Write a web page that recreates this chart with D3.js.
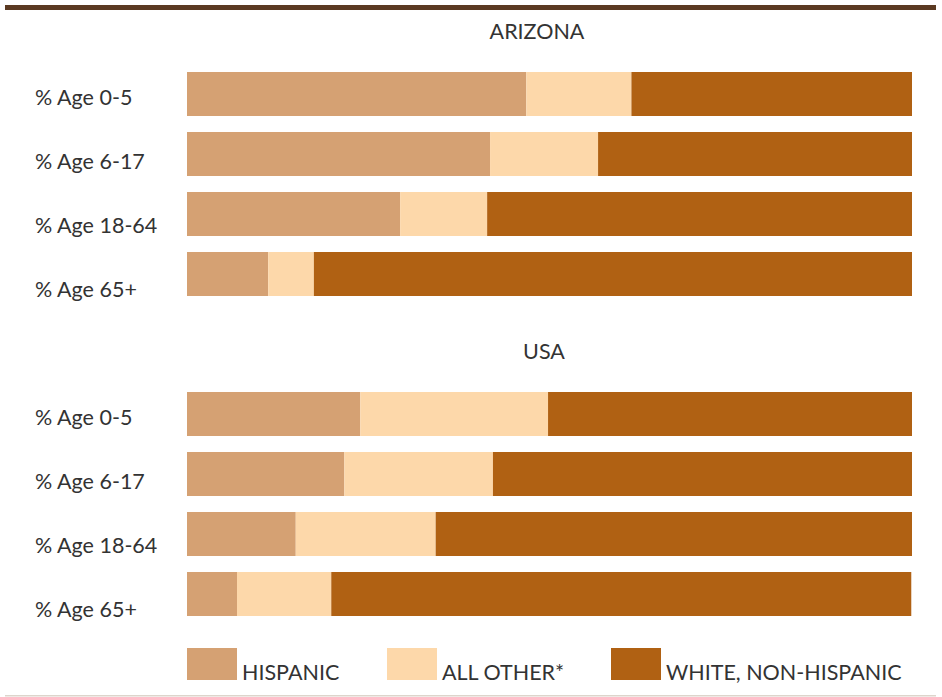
<!DOCTYPE html>
<html><head><meta charset="utf-8">
<script src="https://cdn.jsdelivr.net/npm/d3@7"></script>
<style>body{margin:0;background:#fff}svg{display:block}text{font-family:Lato,"Open Sans",sans-serif;fill:#333}</style>
</head><body>
<script>
const categories = ["% Age 0-5", "% Age 6-17", "% Age 18-64", "% Age 65+"];
const seriesNames = ["HISPANIC", "ALL OTHER*", "WHITE, NON-HISPANIC"];
const colors = ["#D5A173", "#FDD8AA", "#B06113"];
const arizonaHispanic = [46.8, 41.8, 29.4, 11.2];
const arizonaOther = [14.5, 14.9, 12.0, 6.3];
const arizonaWhite = [38.7, 43.3, 58.6, 82.5];
const usaHispanic = [23.9, 21.7, 15.0, 6.9];
const usaOther = [25.9, 20.5, 19.3, 13.0];
const usaWhite = [50.2, 57.8, 65.7, 80.0];

const W = 942, H = 697;
const svg = d3.select("body").append("svg").attr("width", W).attr("height", H);

svg.append("rect").attr("x", 5).attr("y", 5).attr("width", 931).attr("height", 5).attr("fill", "#5B3A22");
svg.append("rect").attr("x", 5).attr("y", 695).attr("width", 931).attr("height", 1.5).attr("fill", "#DDD5CC");

const x = d3.scaleLinear().domain([0, 100]).range([187, 912]);

const panels = [
  {title: "ARIZONA", titleX: 537, titleY: 39, top: 72, vals: [arizonaHispanic, arizonaOther, arizonaWhite]},
  {title: "USA", titleX: 544, titleY: 359, top: 392, vals: [usaHispanic, usaOther, usaWhite]}
];

panels.forEach(p => {
  svg.append("text").attr("x", p.titleX).attr("y", p.titleY).attr("text-anchor", "middle")
    .style("font-size", "21.5px").text(p.title);
  const yb = d3.scaleBand().domain(categories).range([p.top, p.top + 4*60 - 16]).paddingInner(16/60);
  const rows = categories.map((c, i) => {
    let acc = 0;
    return p.vals.map((s, k) => { const d = {cat: c, k, x0: acc, x1: acc + s[i]}; acc += s[i]; return d; });
  }).flat();
  svg.append("g").selectAll("rect").data(rows).join("rect")
    .attr("x", d => x(d.x0)).attr("width", d => x(d.x1) - x(d.x0))
    .attr("y", d => yb(d.cat)).attr("height", yb.bandwidth())
    .attr("fill", d => colors[d.k]);
  const ly = d3.scalePoint().domain(categories).range([p.top + 33, p.top + 33 + 3*64]);
  svg.append("g").selectAll("text").data(categories).join("text")
    .attr("x", 35).attr("y", d => ly(d)).style("font-size", "21.5px").text(d => d);
});

const legX = [187, 387, 611];
const lg = svg.append("g").selectAll("g").data(seriesNames).join("g")
  .attr("transform", (d, i) => `translate(${legX[i]},648)`);
lg.append("rect").attr("width", 50).attr("height", 32).attr("fill", (d, i) => colors[i]);
lg.append("text").attr("x", 55).attr("y", 32).style("font-size", "21.5px").text(d => d);
</script>
</body></html>
